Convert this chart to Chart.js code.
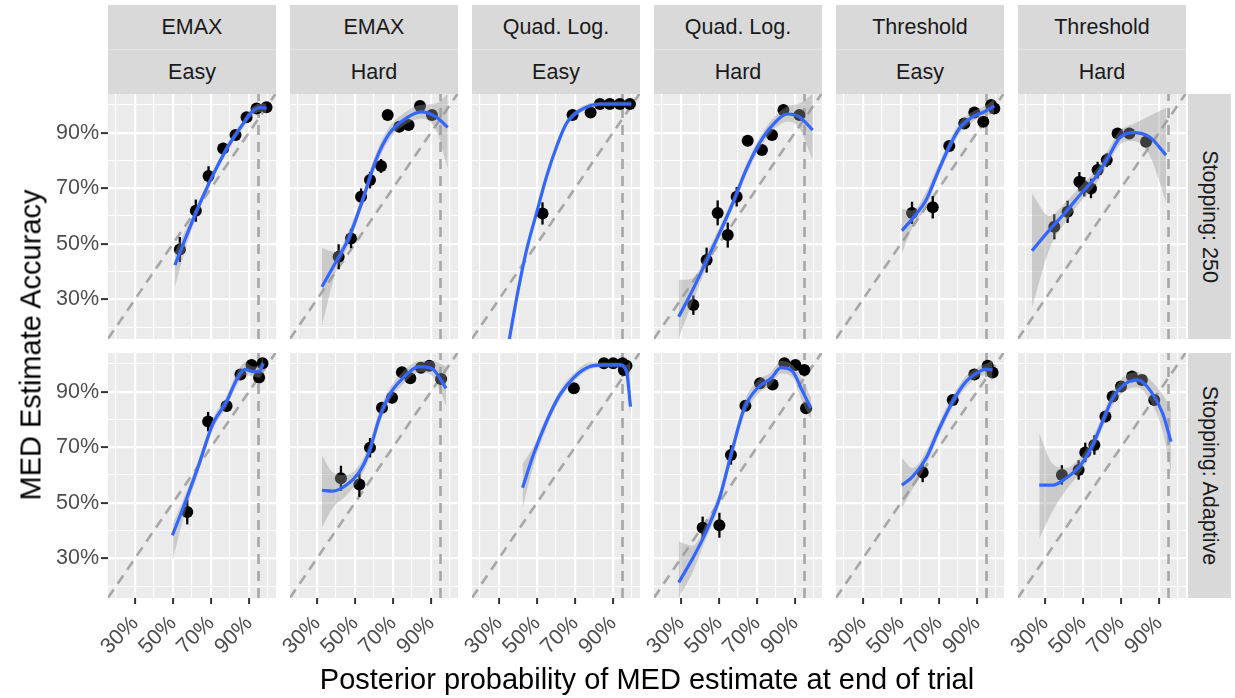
<!DOCTYPE html>
<html lang="en">
<head>
<meta charset="UTF-8">
<title>MED Estimate Accuracy</title>
<script src="https://cdn.jsdelivr.net/npm/chart.js"></script>
<style>
  body { margin: 0; background: #fff; font-family: "Liberation Sans", Arial, sans-serif; }
  #wrap { position: relative; width: 1235px; height: 698px; overflow: hidden; }
  .panel { position: absolute; }
  .strip { position: absolute; background: #D9D9D9; color: #1A1A1A; font-size: 21.5px;
           display: flex; align-items: center; justify-content: center; white-space: nowrap; }
  .strip.sub { border-top: 1px solid #E4E4E4; }
  .vtext { transform: rotate(90deg); }
  .title { position: absolute; color: #000; font-size: 29px; white-space: nowrap; }
</style>
</head>
<body>
<div id="wrap"></div>
<script>
// facet labels
const models = ['EMAX', 'EMAX', 'Quad. Log.', 'Quad. Log.', 'Threshold', 'Threshold'];
const difficulty = ['Easy', 'Hard', 'Easy', 'Hard', 'Easy', 'Hard'];
const stopping = ['Stopping: 250', 'Stopping: Adaptive'];

// axis breaks (percent)
const xTicks = [30, 50, 70, 90];
const yTicks = [30, 50, 70, 90];
const gridVals = [20, 30, 40, 50, 60, 70, 80, 90, 100];
const targetProb = 95;

// observed points: [posterior %, accuracy %, error half-width]
// smooth fit: [posterior %, fit %, lower %, upper %]
const emaxEasy250Pts = [[53.6,47.9,4.5],[62.0,61.9,4],[68.7,74.4,3.5],[76.4,84.3,2],[82.9,89.1,1.5],[88.7,95.5,1.5],[94.0,98.7,1],[99.2,99.1,1]];
const emaxEasy250Fit = [[51.0,42.3,34.5,47],[58.3,54.9,52,57.5],[65.3,66.3,64.5,68],[72.3,76.5,75,78],[79.4,85.5,84,87],[86.4,92.7,91.3,94],[91.6,97.5,96,99],[96.0,99.0,97.5,100.5],[99.2,98.8,97,100.5]];

const emaxHard250Pts = [[41.4,45.3,4.5],[47.9,51.9,3.5],[53.2,66.9,3],[57.9,72.9,3],[63.7,78.0,2.5],[67.2,96.3,1],[73.3,92.1,1.5],[78.2,92.7,1.5],[84.2,99.6,1],[90.5,96.3,1.5]];
const emaxHard250Fit = [[32.6,34.5,20.5,48.5],[40.0,43.5,40,47],[47.0,52.5,50,55],[54.0,65.7,63.5,68],[61.0,80.1,78,82.5],[68.1,89.7,87.5,92],[76.8,95.1,93,97.5],[84.7,97.5,95,100],[92.6,95.7,91,100.5],[98.8,91.9,77,104]];

const quadEasy250Pts = [[52.9,60.9,4],[68.7,96.3,1],[78.2,97.2,1],[83.1,100.3,0.8],[88.3,100.3,0.8],[93.6,100.3,0.8],[98.9,100.3,0.8]];
const quadEasy250Fit = [[34.5,12,10,14],[40.1,33.3,31.5,35],[44.5,47.7,46.5,49],[49.7,60.9,59.5,62.5],[55.0,74.1,73,75.5],[60.3,84.9,84,86],[65.5,93.3,92.3,94.3],[72.5,97.9,97,99],[83.1,100.3,99.5,101],[99.7,100.3,99.5,101.2]];

const quadHard250Pts = [[36.5,27.9,3.5],[43.5,44.1,4.5],[49.3,61.1,4.5],[54.6,53.1,4.5],[59.3,66.9,3.5],[65.1,87.1,1],[72.6,83.7,1.5],[77.9,89.1,1.5],[83.9,98.1,1],[92.3,96.3,1.5]];
const quadHard250Fit = [[28.8,23.7,16,37],[36.1,33.3,29,37.5],[43.2,43.5,41,46],[50.2,53.7,51.5,56],[57.2,64.5,62.5,66.5],[64.2,76.5,74.5,78.5],[71.2,86.1,84,88],[78.2,92.7,90.5,95],[86.1,96.7,94,99.5],[92.3,95.7,91.5,100.5],[99.3,90.9,80,104]];

const threshEasy250Pts = [[55.8,61.1,4],[66.7,63.1,4],[75.4,85.2,1.5],[83.3,93.3,1.5],[88.6,97.2,1],[93.3,93.9,1.5],[97.4,99.9,1],[99.1,98.7,1]];
const threshEasy250Fit = [[50.5,54.7,46.5,62.5],[56.1,59.1,56,62],[63.2,65.7,63,68.5],[68.4,74.1,72,76.5],[73.7,82.5,80.5,84.5],[80.7,91.5,89.5,93.5],[87.7,95.7,94,97.5],[93.9,97.5,96,99.5],[99.1,99.6,97,102]];

const threshHard250Pts = [[34.9,56.1,4.5],[41.9,61.5,4],[48.1,72.3,3.5],[50.7,70.5,3.5],[54.2,69.9,3.5],[57.7,76.5,3],[62.5,80.1,2.5],[68.2,89.7,1.5],[74.4,89.7,1.5],[83.2,86.7,1.5]];
const threshHard250Fit = [[23.2,47.5,27,68],[32.3,54.9,48,60],[41.0,61.5,58,65],[49.8,68.7,66,71.5],[56.8,74.1,71.5,76.5],[63.9,81.9,79.5,84.5],[69.1,87.9,85.5,90.5],[76.1,90.0,87,93],[84.9,88.5,82,96],[93.7,81.9,65,99]];

const emaxEasyAdPts = [[57.5,46.7,4.5],[68.5,79.2,3.5],[78.2,84.8,2],[85.5,96.2,1.5],[91.3,99.6,1],[95.3,95.1,1.5],[97.1,100.2,1]];
const emaxEasyAdFit = [[49.7,38.3,29,42],[56.2,49.7,46,52.5],[63.2,62.9,60.5,65],[71.1,78.6,76.5,80.5],[78.2,86.4,84.5,88.5],[83.4,94.2,92,96.5],[87.8,98.0,96,100.5],[92.2,97.2,95.5,99],[95.4,97.2,95,99.5],[97.5,100.2,97,102.5]];

const emaxHardAdPts = [[42.6,58.8,4.5],[52.3,56.6,4.5],[57.9,69.8,3.5],[64.2,84.2,2],[69.5,87.8,2],[74.7,97.0,1],[79.1,94.8,1.5],[84.7,98.6,1],[89.1,99.3,1],[95.3,94.5,1.5]];
const emaxHardAdFit = [[32.6,54.5,41,67],[38.2,54.2,48,61],[45.3,56.3,52.5,60],[52.3,61.1,58.5,63.5],[57.5,68.4,66,71],[62.8,80.4,78,83],[68.1,88.8,86.5,91],[75.1,94.8,92.5,97],[83.9,99.0,97,101],[90.9,98.1,95.5,101],[97.9,91.2,85,99]];

const quadEasyAdPts = [[69.4,91.2,1],[85.2,100.2,0.8],[90.1,100.2,0.8],[95.0,100.2,0.8],[95.7,97.8,1],[97.1,99.3,0.8]];
const quadEasyAdFit = [[42.4,55.4,48,64],[48.0,67.1,63,70],[55.0,79.2,77,81],[62.0,88.8,87,90.5],[69.9,95.4,94,97],[77.8,99.0,98,100.5],[84.8,99.6,98.7,100.5],[93.6,99.6,98.7,100.5],[97.1,97.2,95,99.5],[99.2,84.6,81,101]];

const quadHardAdPts = [[41.4,41.0,4],[50.2,41.9,4.5],[56.3,67.2,3.5],[63.9,84.9,1.5],[71.6,93.0,1.5],[78.2,92.6,1.5],[84.4,100.2,1],[90.2,99.6,1],[94.9,97.8,1],[95.8,84.0,1.5]];
const quadHardAdFit = [[28.8,21.3,15.7,36],[36.1,29.9,25,34.5],[43.2,39.5,37,42.5],[50.2,51.5,49,54],[56.3,67.2,64.5,69.5],[63.3,84.0,81.5,86.5],[70.4,91.4,89,94],[77.4,94.8,92.5,97],[82.6,98.6,96.5,101],[88.8,97.2,95,99.5],[94.0,90.0,86,94],[98.4,84.0,80,88]];

const threshEasyAdPts = [[61.4,60.9,3.5],[77.2,87.0,1.5],[88.6,96.2,1],[95.6,99.3,1],[98.2,96.9,1]];
const threshEasyAdFit = [[50.5,56.3,48,66],[56.1,59.4,55,62.5],[63.2,66.0,63.5,68.5],[70.2,76.8,74.5,79],[77.2,86.4,84.5,88.5],[84.2,93.6,91.5,95.5],[91.2,97.2,95.5,99],[94.7,98.1,96,100],[98.2,97.8,94,101.5]];

const threshHardAdPts = [[38.9,60.0,3.5],[47.7,61.8,3.5],[51.2,68.1,3.5],[56.0,70.8,3.5],[61.8,81.0,2],[65.6,88.2,1.5],[70.0,91.8,1.5],[75.8,95.4,1],[81.0,94.2,1],[87.5,87.0,1.5]];
const threshHardAdFit = [[27.0,56.3,37,75],[34.0,56.3,47,64],[41.0,58.8,54.5,62.5],[48.1,63.0,60.5,66],[55.1,70.8,68.5,73.5],[60.3,79.2,77,81.5],[65.6,87.6,85,90],[72.6,93.0,90.5,96],[78.8,94.2,91.5,97],[85.8,90.0,86,94],[91.9,82.2,76,89],[96.3,72.0,61,84]];

const panelPts = [
  [emaxEasy250Pts, emaxHard250Pts, quadEasy250Pts, quadHard250Pts, threshEasy250Pts, threshHard250Pts],
  [emaxEasyAdPts, emaxHardAdPts, quadEasyAdPts, quadHardAdPts, threshEasyAdPts, threshHardAdPts]
];
const panelFit = [
  [emaxEasy250Fit, emaxHard250Fit, quadEasy250Fit, quadHard250Fit, threshEasy250Fit, threshHard250Fit],
  [emaxEasyAdFit, emaxHardAdFit, quadEasyAdFit, quadHardAdFit, threshEasyAdFit, threshHardAdFit]
];

// layout
const X_MIN = 15.8, X_MAX = 104.2, Y_MIN = 15.7, Y_MAX = 103.9;
const LEFT0 = 108, PITCH = 182, PW = 168, PH = 245;
const ROW_TOP = [94, 353];
const YAXIS_W = 108, SIDE_W = 45, XAXIS_H = 90;
const FONT = '"Liberation Sans", Arial, sans-serif';

Chart.defaults.font.family = FONT;

const panelBg = {
  id: 'panelBg',
  beforeDraw(chart) {
    const { ctx, chartArea: a } = chart;
    ctx.save();
    ctx.fillStyle = '#EBEBEB';
    ctx.fillRect(a.left, a.top, a.width, a.height);
    ctx.restore();
  }
};

// vertical error bars, drawn right after the point layer
const errorBars = {
  id: 'errorBars',
  afterDatasetDraw(chart, args) {
    const ds = chart.data.datasets[args.index];
    if (!ds.errors) return;
    const { ctx, chartArea: a, scales: { x, y } } = chart;
    ctx.save();
    ctx.beginPath();
    ctx.rect(a.left, a.top, a.width, a.height);
    ctx.clip();
    ctx.strokeStyle = '#000';
    ctx.lineWidth = 2.3;
    ds.data.forEach((p, i) => {
      const px = x.getPixelForValue(p.x);
      ctx.beginPath();
      ctx.moveTo(px, y.getPixelForValue(p.y - ds.errors[i]));
      ctx.lineTo(px, y.getPixelForValue(p.y + ds.errors[i]));
      ctx.stroke();
    });
    ctx.restore();
  }
};

const isMajor = v => xTicks.includes(v);

function axis(min, max, labels, showLabels, fixSize) {
  return {
    type: 'linear', min: min, max: max,
    border: { display: false },
    afterBuildTicks: s => { s.ticks = gridVals.map(v => ({ value: v })); },
    afterFit: fixSize,
    grid: {
      color: '#FFFFFF',
      lineWidth: c => (c.tick && isMajor(c.tick.value)) ? 2.2 : 1.1,
      drawTicks: showLabels,
      tickLength: 6,
      tickWidth: 2,
      tickColor: c => (c.tick && isMajor(c.tick.value)) ? '#333333' : 'rgba(0,0,0,0)'
    },
    ticks: {
      display: showLabels,
      autoSkip: false,
      padding: 7,
      color: '#4D4D4D',
      font: { family: FONT, size: 21.5 },
      callback: v => labels.includes(v) ? v + '%' : ''
    }
  };
}

const wrap = document.getElementById('wrap');

for (let row = 0; row < 2; row++) {
  for (let col = 0; col < 6; col++) {
    const leftCol = col === 0, bottomRow = row === 1;
    // room on the left for the y labels, or for the slanted x labels
    const ml = leftCol ? YAXIS_W : SIDE_W;
    const div = document.createElement('div');
    div.className = 'panel';
    const w = PW + ml;
    const h = PH + (bottomRow ? XAXIS_H : 0);
    div.style.left = (LEFT0 + col * PITCH - ml) + 'px';
    div.style.top = ROW_TOP[row] + 'px';
    const canvas = document.createElement('canvas');
    canvas.width = w; canvas.height = h;
    div.appendChild(canvas);
    wrap.appendChild(div);

    const pts = panelPts[row][col];
    const fit = panelFit[row][col];

    const xAxis = axis(X_MIN, X_MAX, xTicks, bottomRow, s => {
      s.height = bottomRow ? XAXIS_H : 0;
      s.paddingLeft = 0; s.paddingRight = 0;
    });
    xAxis.ticks.minRotation = 45;
    xAxis.ticks.maxRotation = 45;
    const yAxis = axis(Y_MIN, Y_MAX, yTicks, leftCol, s => {
      s.width = ml;
      s.paddingTop = 0; s.paddingBottom = 0;
    });
    yAxis.grid.tickLength = 7;
    yAxis.ticks.padding = 2;

    new Chart(canvas, {
      type: 'line',
      data: {
        datasets: [
          { label: 'fit', data: fit.map(r => ({ x: r[0], y: r[1] })),
            borderColor: '#3366FF', borderWidth: 3.2, pointRadius: 0,
            cubicInterpolationMode: 'monotone', fill: false, order: 0, clip: 0 },
          { label: 'upper', data: fit.map(r => ({ x: r[0], y: r[3] })),
            borderColor: 'rgba(0,0,0,0)', borderWidth: 0, pointRadius: 0,
            cubicInterpolationMode: 'monotone', fill: '+1',
            backgroundColor: 'rgba(153,153,153,0.4)', order: 1, clip: 0 },
          { label: 'lower', data: fit.map(r => ({ x: r[0], y: r[2] })),
            borderColor: 'rgba(0,0,0,0)', borderWidth: 0, pointRadius: 0,
            cubicInterpolationMode: 'monotone', fill: false, order: 1, clip: 0 },
          { label: 'observed', data: pts.map(r => ({ x: r[0], y: r[1] })),
            errors: pts.map(r => r[2]),
            showLine: false, pointRadius: 6, pointBackgroundColor: '#000',
            pointBorderWidth: 0, order: 2, clip: 0 },
          { label: 'target', data: [{ x: targetProb, y: Y_MIN }, { x: targetProb, y: Y_MAX }],
            borderColor: '#A6A6A6', borderWidth: 2.6, borderDash: [10, 7],
            pointRadius: 0, fill: false, order: 3, clip: 0 },
          { label: 'identity', data: [{ x: X_MIN, y: X_MIN }, { x: X_MAX, y: X_MAX }],
            borderColor: '#A6A6A6', borderWidth: 2.6, borderDash: [10, 7],
            pointRadius: 0, fill: false, order: 4, clip: 0 }
        ]
      },
      options: {
        responsive: false,
        animation: false,
        events: [],
        layout: { padding: 0, autoPadding: false },
        plugins: { legend: { display: false }, tooltip: { enabled: false } },
        scales: { x: xAxis, y: yAxis }
      },
      plugins: [panelBg, errorBars]
    });
  }
}

// column strips
for (let col = 0; col < 6; col++) {
  const left = LEFT0 + col * PITCH;
  const s1 = document.createElement('div');
  s1.className = 'strip';
  s1.style.cssText = `left:${left}px;top:5px;width:${PW}px;height:44px;`;
  s1.textContent = models[col];
  const s2 = document.createElement('div');
  s2.className = 'strip sub';
  s2.style.cssText = `left:${left}px;top:49px;width:${PW}px;height:44px;`;
  s2.textContent = difficulty[col];
  wrap.appendChild(s1);
  wrap.appendChild(s2);
}

// row strips
for (let row = 0; row < 2; row++) {
  const s = document.createElement('div');
  s.className = 'strip';
  s.style.cssText = `left:1188px;top:${ROW_TOP[row]}px;width:43px;height:${PH}px;`;
  const t = document.createElement('span');
  t.className = 'vtext';
  t.textContent = stopping[row];
  s.appendChild(t);
  wrap.appendChild(s);
}

// axis titles
const xt = document.createElement('div');
xt.className = 'title';
xt.textContent = 'Posterior probability of MED estimate at end of trial';
xt.style.cssText = 'left:647px;top:679px;transform:translate(-50%,-50%);';
wrap.appendChild(xt);

const yt = document.createElement('div');
yt.className = 'title';
yt.textContent = 'MED Estimate Accuracy';
yt.style.cssText = 'left:31px;top:345px;transform:translate(-50%,-50%) rotate(-90deg);';
wrap.appendChild(yt);
</script>
</body>
</html>
